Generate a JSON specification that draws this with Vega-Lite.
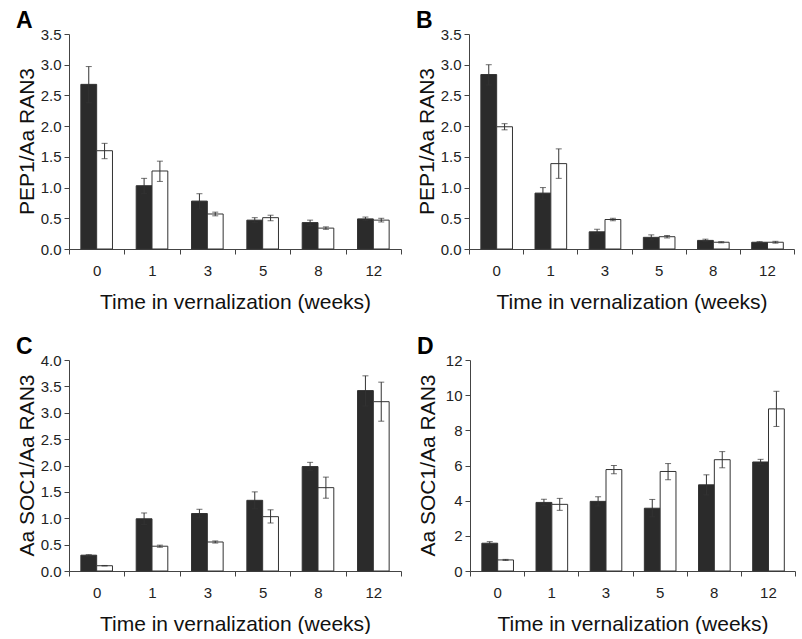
{
  "$schema": "https://vega.github.io/schema/vega-lite/v6.json",
  "padding": {"left": 15, "top": 10, "right": 0, "bottom": 0},
  "background": "white",
  "config": {
    "view": {"stroke": null},
    "font": "Liberation Sans",
    "axis": {"grid": false, "domainColor": "#444", "tickColor": "#444", "labelColor": "#222", "titleColor": "#111", "labelFont": "Liberation Sans", "titleFont": "Liberation Sans", "labelFontSize": 15, "titleFontSize": 21, "titleFontWeight": "normal", "tickSize": 5, "labelOverlap": false},
    "title": {"font": "Liberation Sans", "fontSize": 23, "fontWeight": "bold", "anchor": "start", "color": "#000", "offset": -6},
    "concat": {"spacing": 14}
  },
  "datasets": {
    "A": [
      {"w": 0, "s": "a", "v": 2.68, "lo": 2.38, "hi": 2.97},
      {"w": 0, "s": "b", "v": 1.60, "lo": 1.47, "hi": 1.72},
      {"w": 1, "s": "a", "v": 1.03, "lo": 0.90, "hi": 1.15},
      {"w": 1, "s": "b", "v": 1.27, "lo": 1.10, "hi": 1.43},
      {"w": 3, "s": "a", "v": 0.78, "lo": 0.65, "hi": 0.90},
      {"w": 3, "s": "b", "v": 0.57, "lo": 0.54, "hi": 0.60},
      {"w": 5, "s": "a", "v": 0.47, "lo": 0.43, "hi": 0.51},
      {"w": 5, "s": "b", "v": 0.51, "lo": 0.46, "hi": 0.55},
      {"w": 8, "s": "a", "v": 0.43, "lo": 0.38, "hi": 0.47},
      {"w": 8, "s": "b", "v": 0.34, "lo": 0.32, "hi": 0.36},
      {"w": 12, "s": "a", "v": 0.49, "lo": 0.46, "hi": 0.52},
      {"w": 12, "s": "b", "v": 0.47, "lo": 0.44, "hi": 0.50}
    ],
    "B": [
      {"w": 0, "s": "a", "v": 2.84, "lo": 2.67, "hi": 3.00},
      {"w": 0, "s": "b", "v": 1.99, "lo": 1.94, "hi": 2.04},
      {"w": 1, "s": "a", "v": 0.91, "lo": 0.81, "hi": 1.00},
      {"w": 1, "s": "b", "v": 1.39, "lo": 1.15, "hi": 1.63},
      {"w": 3, "s": "a", "v": 0.28, "lo": 0.25, "hi": 0.32},
      {"w": 3, "s": "b", "v": 0.48, "lo": 0.46, "hi": 0.50},
      {"w": 5, "s": "a", "v": 0.19, "lo": 0.15, "hi": 0.23},
      {"w": 5, "s": "b", "v": 0.20, "lo": 0.18, "hi": 0.22},
      {"w": 8, "s": "a", "v": 0.14, "lo": 0.12, "hi": 0.16},
      {"w": 8, "s": "b", "v": 0.11, "lo": 0.10, "hi": 0.12},
      {"w": 12, "s": "a", "v": 0.11, "lo": 0.10, "hi": 0.12},
      {"w": 12, "s": "b", "v": 0.11, "lo": 0.095, "hi": 0.125}
    ],
    "C": [
      {"w": 0, "s": "a", "v": 0.30, "lo": 0.28, "hi": 0.31},
      {"w": 0, "s": "b", "v": 0.10, "lo": 0.095, "hi": 0.105},
      {"w": 1, "s": "a", "v": 0.99, "lo": 0.88, "hi": 1.10},
      {"w": 1, "s": "b", "v": 0.47, "lo": 0.45, "hi": 0.49},
      {"w": 3, "s": "a", "v": 1.09, "lo": 1.01, "hi": 1.17},
      {"w": 3, "s": "b", "v": 0.55, "lo": 0.53, "hi": 0.57},
      {"w": 5, "s": "a", "v": 1.34, "lo": 1.18, "hi": 1.50},
      {"w": 5, "s": "b", "v": 1.03, "lo": 0.91, "hi": 1.16},
      {"w": 8, "s": "a", "v": 1.98, "lo": 1.90, "hi": 2.06},
      {"w": 8, "s": "b", "v": 1.58, "lo": 1.38, "hi": 1.78},
      {"w": 12, "s": "a", "v": 3.42, "lo": 3.13, "hi": 3.70},
      {"w": 12, "s": "b", "v": 3.21, "lo": 2.84, "hi": 3.58}
    ],
    "D": [
      {"w": 0, "s": "a", "v": 1.58, "lo": 1.50, "hi": 1.67},
      {"w": 0, "s": "b", "v": 0.63, "lo": 0.60, "hi": 0.66},
      {"w": 1, "s": "a", "v": 3.90, "lo": 3.72, "hi": 4.08},
      {"w": 1, "s": "b", "v": 3.79, "lo": 3.45, "hi": 4.13},
      {"w": 3, "s": "a", "v": 3.96, "lo": 3.70, "hi": 4.22},
      {"w": 3, "s": "b", "v": 5.77, "lo": 5.53, "hi": 6.00},
      {"w": 5, "s": "a", "v": 3.57, "lo": 3.08, "hi": 4.07},
      {"w": 5, "s": "b", "v": 5.66, "lo": 5.19, "hi": 6.11},
      {"w": 8, "s": "a", "v": 4.90, "lo": 4.33, "hi": 5.47},
      {"w": 8, "s": "b", "v": 6.33, "lo": 5.87, "hi": 6.79},
      {"w": 12, "s": "a", "v": 6.20, "lo": 6.05, "hi": 6.35},
      {"w": 12, "s": "b", "v": 9.22, "lo": 8.22, "hi": 10.22}
    ]
  },
  "vconcat": [
    {
      "hconcat": [
        {
          "width": 332, "height": 215,
          "title": {"text": "A"},
          "data": {"name": "A"},
          "resolve": {"axis": {"y": "independent"}},
          "encoding": {
            "x": {"field": "w", "type": "ordinal", "scale": {"paddingInner": 0, "paddingOuter": 0}, "axis": {"title": "Time in vernalization (weeks)", "labelAngle": 0, "tickBand": "extent", "labelPadding": 9, "titlePadding": 13, "labelFontSize": 15, "titleFontSize": 21}},
            "xOffset": {"field": "s", "type": "nominal", "scale": {"paddingInner": 0, "paddingOuter": 0.75}}
          },
          "layer": [
            {"mark": {"type": "bar", "stroke": "#333", "strokeWidth": 1}, "encoding": {"y": {"field": "v", "type": "quantitative", "title": "PEP1/Aa RAN3", "scale": {"domain": [0, 3.5]}, "axis": {"values": [0, 0.5, 1, 1.5, 2, 2.5, 3, 3.5], "format": ".1f", "titleX": -32, "titleY": 107, "labelPadding": 3, "labelOverlap": false, "labelFontSize": 15, "titleFontSize": 21}}, "fill": {"field": "s", "type": "nominal", "scale": {"domain": ["a", "b"], "range": ["#2b2b2b", "#ffffff"]}, "legend": null}}},
            {"mark": {"type": "rule", "color": "#333"}, "encoding": {"y": {"field": "lo", "type": "quantitative", "axis": null}, "y2": {"field": "hi"}}},
            {"mark": {"type": "tick", "color": "#333", "size": 6, "thickness": 1}, "encoding": {"y": {"field": "hi", "type": "quantitative", "axis": null}}},
            {"mark": {"type": "tick", "color": "#333", "size": 6, "thickness": 1}, "encoding": {"y": {"field": "lo", "type": "quantitative", "axis": null}}}
          ]
        },
        {
          "width": 325, "height": 215,
          "title": {"text": "B"},
          "data": {"name": "B"},
          "resolve": {"axis": {"y": "independent"}},
          "encoding": {
            "x": {"field": "w", "type": "ordinal", "scale": {"paddingInner": 0, "paddingOuter": 0}, "axis": {"title": "Time in vernalization (weeks)", "labelAngle": 0, "tickBand": "extent", "labelPadding": 9, "titlePadding": 13, "labelFontSize": 15, "titleFontSize": 21}},
            "xOffset": {"field": "s", "type": "nominal", "scale": {"paddingInner": 0, "paddingOuter": 0.75}}
          },
          "layer": [
            {"mark": {"type": "bar", "stroke": "#333", "strokeWidth": 1}, "encoding": {"y": {"field": "v", "type": "quantitative", "title": "PEP1/Aa RAN3", "scale": {"domain": [0, 3.5]}, "axis": {"values": [0, 0.5, 1, 1.5, 2, 2.5, 3, 3.5], "format": ".1f", "titleX": -32, "titleY": 107, "labelPadding": 3, "labelOverlap": false, "labelFontSize": 15, "titleFontSize": 21}}, "fill": {"field": "s", "type": "nominal", "scale": {"domain": ["a", "b"], "range": ["#2b2b2b", "#ffffff"]}, "legend": null}}},
            {"mark": {"type": "rule", "color": "#333"}, "encoding": {"y": {"field": "lo", "type": "quantitative", "axis": null}, "y2": {"field": "hi"}}},
            {"mark": {"type": "tick", "color": "#333", "size": 6, "thickness": 1}, "encoding": {"y": {"field": "hi", "type": "quantitative", "axis": null}}},
            {"mark": {"type": "tick", "color": "#333", "size": 6, "thickness": 1}, "encoding": {"y": {"field": "lo", "type": "quantitative", "axis": null}}}
          ]
        }
      ]
    },
    {
      "hconcat": [
        {
          "width": 332, "height": 211,
          "title": {"text": "C"},
          "data": {"name": "C"},
          "resolve": {"axis": {"y": "independent"}},
          "encoding": {
            "x": {"field": "w", "type": "ordinal", "scale": {"paddingInner": 0, "paddingOuter": 0}, "axis": {"title": "Time in vernalization (weeks)", "labelAngle": 0, "tickBand": "extent", "labelPadding": 9, "titlePadding": 13, "labelFontSize": 15, "titleFontSize": 21}},
            "xOffset": {"field": "s", "type": "nominal", "scale": {"paddingInner": 0, "paddingOuter": 0.75}}
          },
          "layer": [
            {"mark": {"type": "bar", "stroke": "#333", "strokeWidth": 1}, "encoding": {"y": {"field": "v", "type": "quantitative", "title": "Aa SOC1/Aa RAN3", "scale": {"domain": [0, 4]}, "axis": {"values": [0, 0.5, 1, 1.5, 2, 2.5, 3, 3.5, 4], "format": ".1f", "titleX": -32, "titleY": 105, "labelPadding": 3, "labelOverlap": false, "labelFontSize": 15, "titleFontSize": 21}}, "fill": {"field": "s", "type": "nominal", "scale": {"domain": ["a", "b"], "range": ["#2b2b2b", "#ffffff"]}, "legend": null}}},
            {"mark": {"type": "rule", "color": "#333"}, "encoding": {"y": {"field": "lo", "type": "quantitative", "axis": null}, "y2": {"field": "hi"}}},
            {"mark": {"type": "tick", "color": "#333", "size": 6, "thickness": 1}, "encoding": {"y": {"field": "hi", "type": "quantitative", "axis": null}}},
            {"mark": {"type": "tick", "color": "#333", "size": 6, "thickness": 1}, "encoding": {"y": {"field": "lo", "type": "quantitative", "axis": null}}}
          ]
        },
        {
          "width": 325, "height": 211,
          "title": {"text": "D"},
          "data": {"name": "D"},
          "resolve": {"axis": {"y": "independent"}},
          "encoding": {
            "x": {"field": "w", "type": "ordinal", "scale": {"paddingInner": 0, "paddingOuter": 0}, "axis": {"title": "Time in vernalization (weeks)", "labelAngle": 0, "tickBand": "extent", "labelPadding": 9, "titlePadding": 13, "labelFontSize": 15, "titleFontSize": 21}},
            "xOffset": {"field": "s", "type": "nominal", "scale": {"paddingInner": 0, "paddingOuter": 0.75}}
          },
          "layer": [
            {"mark": {"type": "bar", "stroke": "#333", "strokeWidth": 1}, "encoding": {"y": {"field": "v", "type": "quantitative", "title": "Aa SOC1/Aa RAN3", "scale": {"domain": [0, 12]}, "axis": {"values": [0, 2, 4, 6, 8, 10, 12], "titleX": -32, "titleY": 105, "labelPadding": 3, "labelOverlap": false, "labelFontSize": 15, "titleFontSize": 21}}, "fill": {"field": "s", "type": "nominal", "scale": {"domain": ["a", "b"], "range": ["#2b2b2b", "#ffffff"]}, "legend": null}}},
            {"mark": {"type": "rule", "color": "#333"}, "encoding": {"y": {"field": "lo", "type": "quantitative", "axis": null}, "y2": {"field": "hi"}}},
            {"mark": {"type": "tick", "color": "#333", "size": 6, "thickness": 1}, "encoding": {"y": {"field": "hi", "type": "quantitative", "axis": null}}},
            {"mark": {"type": "tick", "color": "#333", "size": 6, "thickness": 1}, "encoding": {"y": {"field": "lo", "type": "quantitative", "axis": null}}}
          ]
        }
      ]
    }
  ],
  "spacing": 24
}
